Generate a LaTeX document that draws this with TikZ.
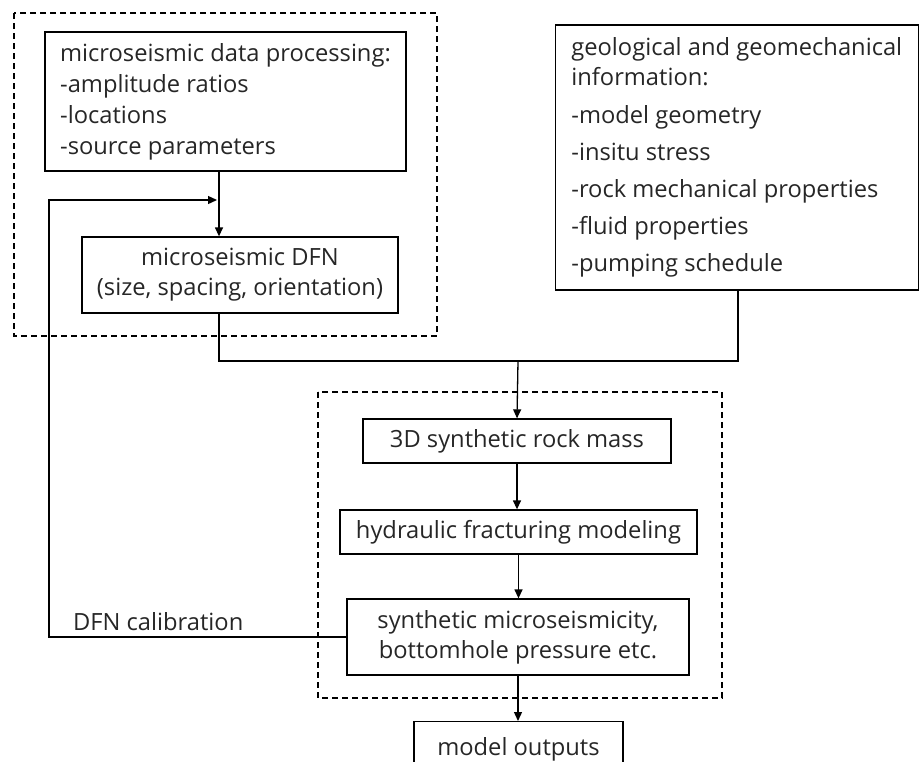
\documentclass[tikz,border=0pt]{standalone}
\usepackage{fontspec}
\setmainfont{Open Sans}
\usetikzlibrary{arrows.meta,calc}
\begin{document}
\begin{tikzpicture}[x=1pt,y=-1pt,
  box/.style={draw=black,line width=1.3pt,rectangle,inner sep=0pt,text=black!85},
  grp/.style={draw=black,line width=1.2pt,dash pattern=on 6pt off 4pt},
  line/.style={draw=black,line width=1.3pt},
  arr/.style={line,-{Triangle[length=9pt,width=8pt]}},
  txt/.style={font=\fontsize{23.7}{31}\selectfont}]
\useasboundingbox (0,0) rectangle (919,761);
% group frames
\draw[grp] (14,13) rectangle (437,336);
\draw[grp] (318,392) rectangle (722,698);
% boxes
\node[box,txt,minimum width=361pt,minimum height=139pt,align=left] (mdp) at (225.5,101.5)
 {microseismic data processing:\\-amplitude ratios\\-locations\\-source parameters};
\node[box,txt,font=\fontsize{23.7}{30}\selectfont,minimum width=316pt,minimum height=76pt,align=center] (dfn) at (240,275)
 {microseismic DFN\\(size, spacing, orientation)};
\node[box,txt,font=\fontsize{23.7}{30}\selectfont,minimum width=363pt,minimum height=265pt,align=left] (geo) at (736.8,157.5)
 {geological and geomechanical\\information:\\[7.5pt]-model geometry\\[7pt]-insitu stress\\[7pt]-rock mechanical properties\\[7pt]-fluid properties\\[7.5pt]-pumping schedule};
\node[box,txt,minimum width=308pt,minimum height=44pt] (rock) at (517,441) {3D synthetic rock mass};
\node[box,txt,minimum width=357pt,minimum height=44pt] (hyd) at (518.5,532) {hydraulic fracturing modeling};
\node[box,txt,font=\fontsize{23.7}{30}\selectfont,minimum width=342pt,minimum height=76pt,align=center] (syn) at (518,637)
 {synthetic microseismicity,\\bottomhole pressure etc.};
\node[box,txt,minimum width=209pt,minimum height=60pt,anchor=north] (out) at (518.5,721) {\raisebox{11pt}{model outputs}};
\node[txt,anchor=base west,inner sep=0pt,text=black!85] (lbl) at (73,630) {DFN calibration};
% helper coordinates
\coordinate (c1) at (219,200);
\coordinate (fbL) at (49,200);
\coordinate (fbE) at (217,200);
\coordinate (m) at (518,361);
\coordinate (g) at (738,290);
% connectors
\draw[arr] (c1 |- mdp.south) -- (c1 |- dfn.north);
\draw[arr] (syn.west) -| (fbL) -- (fbE);
\draw[line] (c1 |- dfn.south) |- (m) -| (g |- geo.south);
\draw[arr] (m) -- (rock.north);
\draw[arr] (rock.south) -- (rock.south |- hyd.north);
\draw[arr] (hyd.south) -- (hyd.south |- syn.north);
\draw[arr] (syn.south) -- (syn.south |- out.north);
\end{tikzpicture}
\end{document}
